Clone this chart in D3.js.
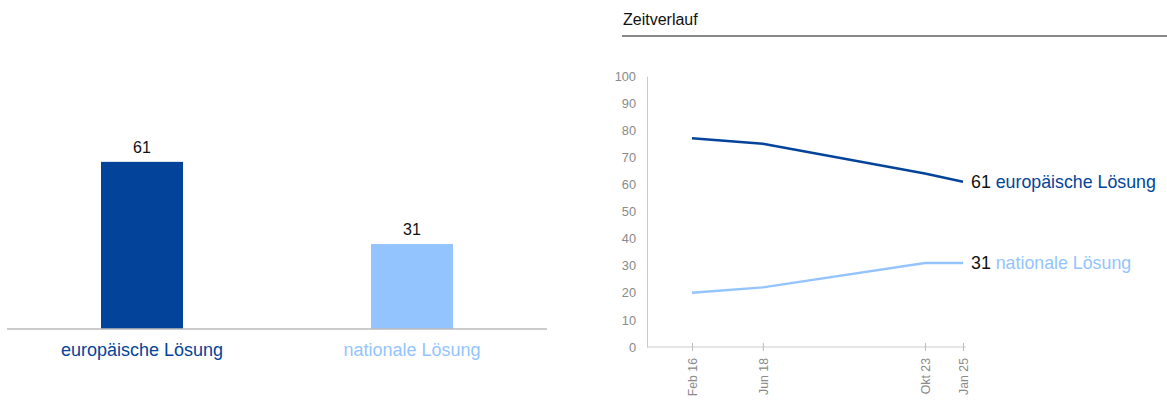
<!DOCTYPE html>
<html>
<head>
<meta charset="utf-8">
<script src="https://cdn.jsdelivr.net/npm/d3@7"></script>
<style>
  body { margin: 0; background: #fff; }
  svg { font-family: Arial, "Liberation Sans", sans-serif; }
</style>
</head>
<body>
<svg id="chart" width="1167" height="401"></svg>
<script>
// current values
const categories = ["europäische Lösung", "nationale Lösung"];
const currentValues = [61, 31];
const seriesColors = ["#03449a", "#94c4fe"];

// time series
const dates = ["2016-02-01", "2018-06-01", "2023-10-01", "2025-01-01"];
const dateLabels = ["Feb 16", "Jun 18", "Okt 23", "Jan 25"];
const europeanValues = [77, 75, 64, 61];
const nationalValues = [20, 22, 31, 31];
const yTicks = [0, 10, 20, 30, 40, 50, 60, 70, 80, 90, 100];

const svg = d3.select('#chart');
const parse = d3.timeParse("%Y-%m-%d");
const font = "Arial, 'Liberation Sans', sans-serif";

// ---- left: bar chart ----
const xBand = d3.scaleBand().domain(categories).range([7, 547]);
const yBar = d3.scaleLinear().domain([0, 100]).range([329, 55]);
const barW = 82;

svg.append("g").selectAll("rect")
  .data(categories)
  .join("rect")
  .attr("x", d => xBand(d) + (xBand.bandwidth() - barW) / 2)
  .attr("y", (d, i) => yBar(currentValues[i]))
  .attr("width", barW)
  .attr("height", (d, i) => yBar(0) - yBar(currentValues[i]))
  .attr("fill", (d, i) => seriesColors[i]);

svg.append("line")
  .attr("x1", 7).attr("x2", 547)
  .attr("y1", yBar(0)).attr("y2", yBar(0))
  .attr("stroke", "#bbb").attr("stroke-width", 1.5);

svg.append("g").selectAll("text")
  .data(categories)
  .join("text")
  .attr("x", d => xBand(d) + xBand.bandwidth() / 2)
  .attr("y", (d, i) => yBar(currentValues[i]) - 9)
  .attr("text-anchor", "middle")
  .attr("font-size", 16)
  .attr("fill", "#111")
  .text((d, i) => currentValues[i]);

svg.append("g").selectAll("text")
  .data(categories)
  .join("text")
  .attr("x", d => xBand(d) + xBand.bandwidth() / 2)
  .attr("y", 356)
  .attr("text-anchor", "middle")
  .attr("font-size", 18)
  .attr("fill", (d, i) => seriesColors[i])
  .text(d => d);

// ---- right: Zeitverlauf ----
svg.append("text")
  .attr("x", 623).attr("y", 25)
  .attr("font-size", 16).attr("fill", "#111")
  .text("Zeitverlauf");
svg.append("line")
  .attr("x1", 622).attr("x2", 1167)
  .attr("y1", 36).attr("y2", 36)
  .attr("stroke", "#888").attr("stroke-width", 2);

const x = d3.scaleTime()
  .domain([parse(dates[0]), parse(dates[3])])
  .range([692, 963]);
const y = d3.scaleLinear().domain([0, 100]).range([347, 76]);

// y axis
const yAxis = svg.append("g")
  .attr("transform", "translate(647,0)")
  .call(d3.axisLeft(y).tickValues(yTicks).tickSize(0).tickPadding(11));
yAxis.select(".domain").attr("stroke", "#ccc");
yAxis.selectAll("text").attr("font-size", 12.8).attr("fill", "#8a8a8a")
  .attr("font-family", font);

// x axis
const xAxis = svg.append("g")
  .attr("transform", `translate(0,${y(0)})`)
  .call(d3.axisBottom(x)
    .tickValues(dates.map(parse))
    .tickFormat((d, i) => dateLabels[i])
    .tickSize(0));
xAxis.select(".domain").attr("d", `M647,0H966`).attr("stroke", "#ccc");
xAxis.selectAll(".tick line")
  .attr("y1", -4).attr("y2", 4).attr("stroke", "#bbb");
xAxis.selectAll("text")
  .attr("font-size", 12.3).attr("fill", "#8a8a8a")
  .attr("font-family", font)
  .attr("text-anchor", "end")
  .attr("transform", "rotate(-90)")
  .attr("x", -11).attr("y", 0).attr("dy", "0.35em");

const series = [europeanValues, nationalValues];
const line = d3.line()
  .x((d, i) => x(parse(dates[i])))
  .y(d => y(d));

svg.append("g").selectAll("path")
  .data(series)
  .join("path")
  .attr("d", d => line(d))
  .attr("fill", "none")
  .attr("stroke", (d, i) => seriesColors[i])
  .attr("stroke-width", 2.5);

const endLabels = svg.append("g").selectAll("text")
  .data(series)
  .join("text")
  .attr("x", 971)
  .attr("y", d => y(d[d.length - 1]))
  .attr("dy", "0.35em")
  .attr("font-size", 17.8);
endLabels.append("tspan")
  .attr("fill", "#111")
  .text(d => d[d.length - 1] + " ");
endLabels.append("tspan")
  .attr("fill", (d, i) => seriesColors[i])
  .text((d, i) => categories[i]);
</script>
</body>
</html>
